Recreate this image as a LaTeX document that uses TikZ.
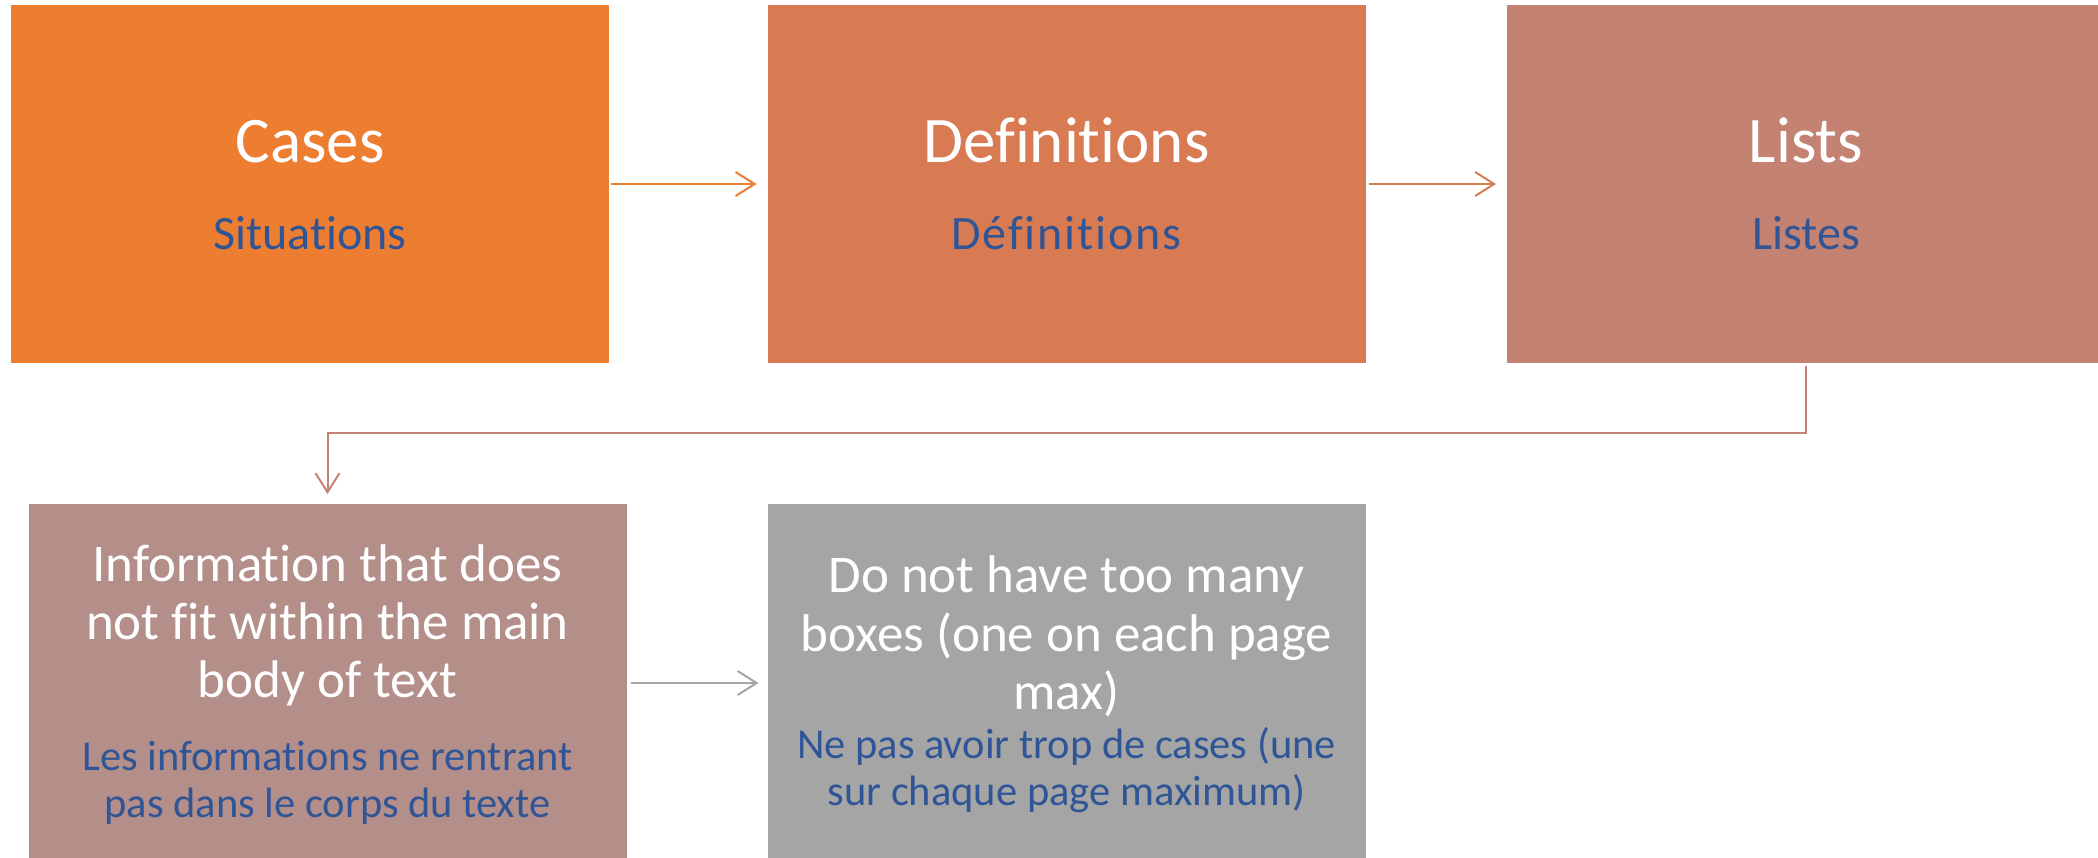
\documentclass[tikz,border=0pt]{standalone}
\usepackage{fontspec}
\setmainfont{Carlito}[Ligatures=NoCommon]
\usetikzlibrary{arrows.meta}
\definecolor{cOrange}{HTML}{ED7D31}
\definecolor{cDef}{HTML}{D87B52}
\definecolor{cList}{HTML}{C48272}
\definecolor{cInfo}{HTML}{B48F89}
\definecolor{cGrey}{HTML}{A5A5A5}
\definecolor{cBlue}{HTML}{2F5597}
\tikzset{
  boxnode/.style={rectangle, draw=none, inner sep=0pt, outer sep=0pt, minimum width=598pt, minimum height=358pt},
  txt/.style={anchor=base, inner sep=0pt, outer sep=0pt},
  bigw/.style={txt, text=white, font=\fontsize{65}{70}\selectfont},
  subb/.style={txt, text=cBlue, font=\fontsize{48}{54}\selectfont},
  midw/.style={txt, text=white, font=\fontsize{53}{58}\selectfont},
  smallb/.style={txt, text=cBlue, font=\fontsize{42.5}{47}\selectfont},
  conn/.style={line width=2pt, -{Straight Barb[length=19pt,width=24pt,line width=2pt]}}
}
\begin{document}
\begin{tikzpicture}[x=1pt,y=-1pt]
\useasboundingbox (0,0) rectangle (2098,857);
\clip (0,0) rectangle (2098,857);
\node[boxnode, fill=cOrange] (cases) at (310,184) {};
\node[boxnode, fill=cDef] (defs) at (1066.5,184) {};
\node[boxnode, fill=cList] (lists) at (1806,184) {};
\node[boxnode, fill=cInfo] (info) at (327.5,683) {};
\node[boxnode, fill=cGrey] (dont) at (1066.5,683) {};

\node[bigw] (t1) at (310,162) {Cases};
\node[subb] (s1) at (310,249) {Situations};
\node[bigw] (t2) at (1066.5,162) {Definitions};
\node[subb] (s2) at (1066.5,249) {\addfontfeature{LetterSpace=4}Définitions};
\node[bigw] (t3) at (1806,162) {Lists};
\node[subb] (s3) at (1806,249) {Listes};

\node[midw] (i1) at (327.5,581) {Information that does};
\node[midw] (i2) at (327.5,639) {not fit within the main};
\node[midw] (i3) at (327.5,697) {body of text};
\node[smallb] (i4) at (327.5,770) {Les informations ne rentrant};
\node[smallb] (i5) at (327.5,817) {pas dans le corps du texte};

\node[midw] (d1) at (1066.5,592) {Do not have too many};
\node[midw] (d2) at (1066.5,651) {boxes (one on each page};
\node[midw] (d3) at (1066.5,709) {max)};
\node[smallb] (d4) at (1066.5,758) {Ne pas avoir trop de cases (une};
\node[smallb] (d5) at (1066.5,805) {sur chaque page maximum)};

\draw[conn, draw=cOrange] ([xshift=2pt]cases.east) -- ([xshift=-11pt]defs.west);
\draw[conn, draw=cDef] ([xshift=3pt]defs.east) -- ([xshift=-11pt]lists.west);
\draw[conn, draw=cList] ([yshift=-3pt]lists.south) -- ++(0,67) -| ([yshift=10pt]info.north);
\draw[conn, draw=cGrey] ([xshift=4pt]info.east) -- ([xshift=-9pt]dont.west);
\end{tikzpicture}
\end{document}
